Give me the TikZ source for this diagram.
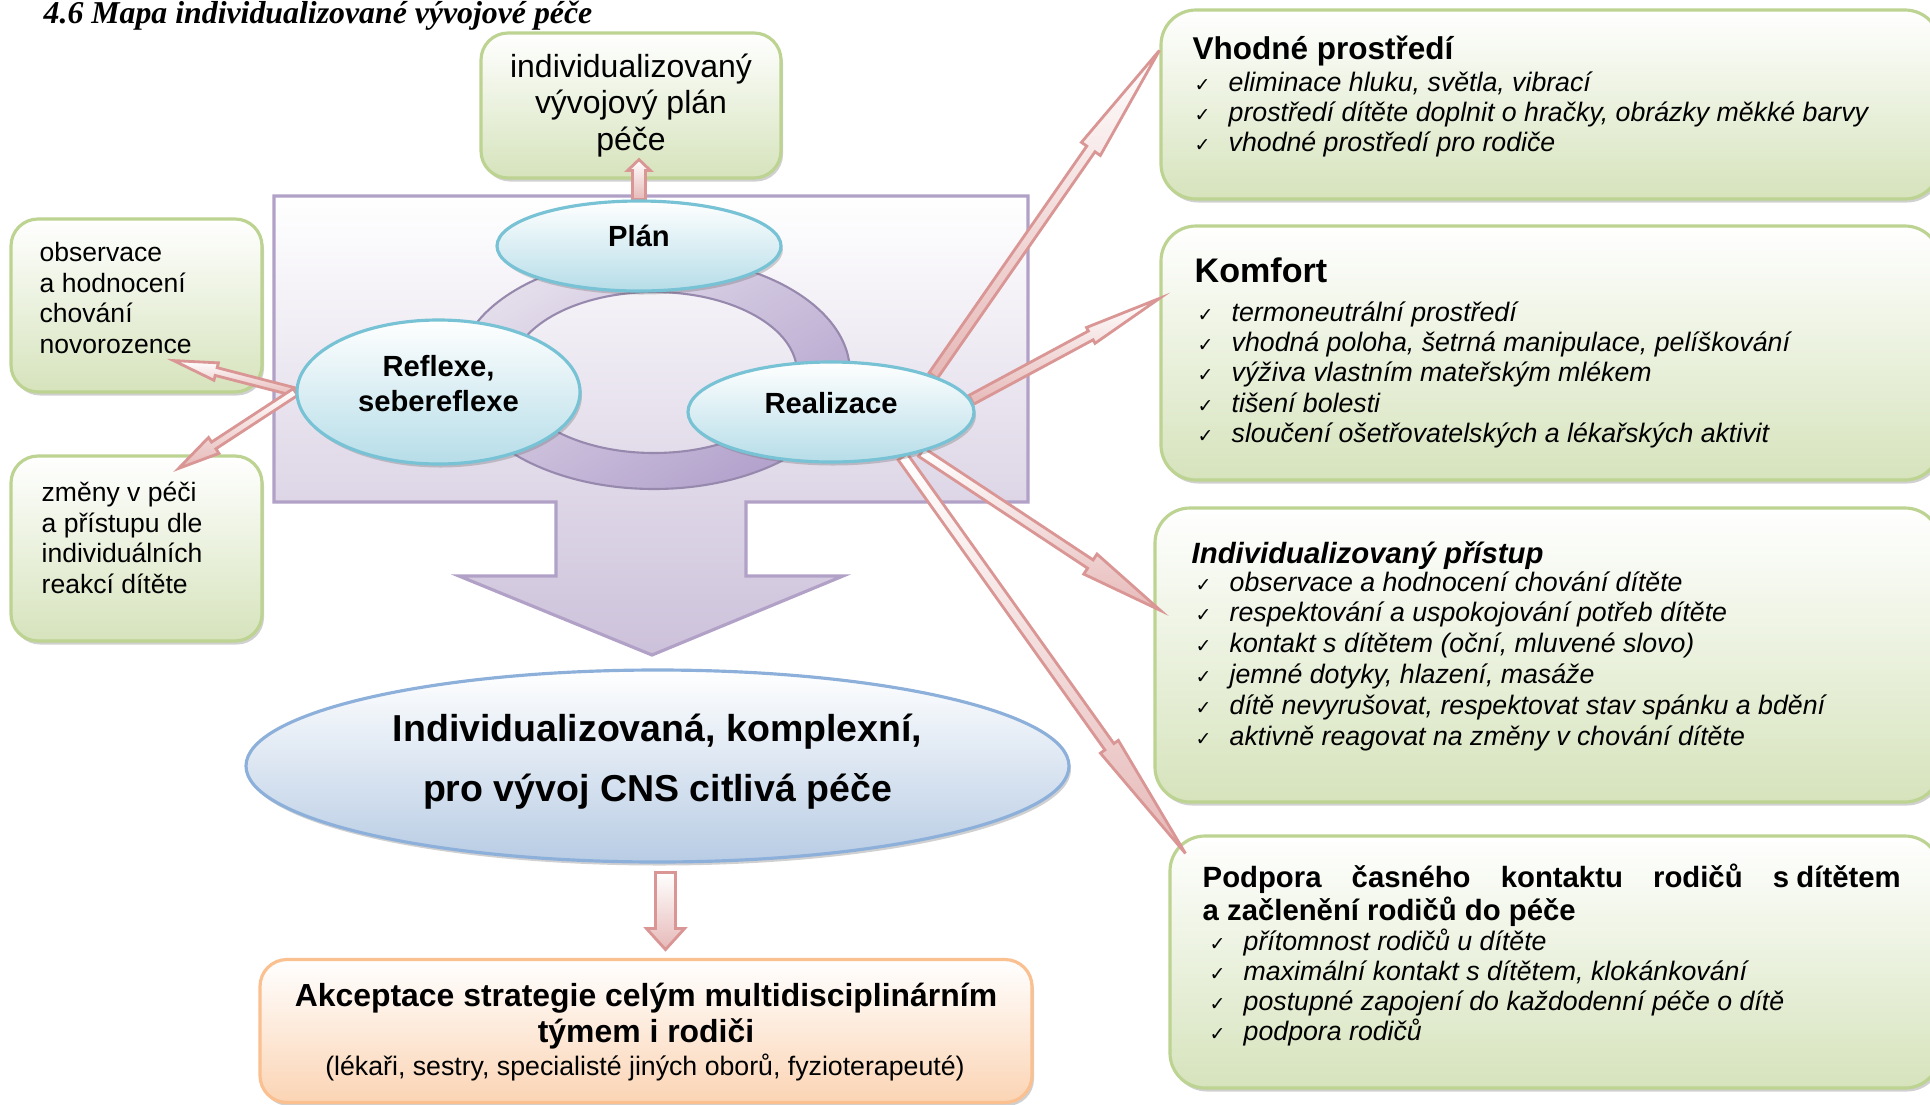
\documentclass[tikz,border=0pt]{standalone}
\usepackage{fontspec}
\setmainfont{Liberation Sans}
\newfontfamily\titlefont{Liberation Serif}
\newfontfamily\symfont{DejaVu Sans}
\usepackage{tikz}
\usetikzlibrary{shapes.geometric, positioning, calc, shadows, backgrounds}

\definecolor{GreenLine}{RGB}{189,211,145}
\definecolor{GreenFill}{RGB}{214,227,188}
\definecolor{CyanLine}{RGB}{120,194,213}
\definecolor{CyanFill}{RGB}{182,221,232}
\definecolor{BlueLine}{RGB}{141,176,219}
\definecolor{BlueFill}{RGB}{184,204,228}
\definecolor{PeachLine}{RGB}{250,192,144}
\definecolor{PeachFill}{RGB}{251,212,180}
\definecolor{LilacLine}{RGB}{178,161,199}
\definecolor{LilacFill}{RGB}{204,193,218}
\definecolor{RingLight}{RGB}{229,223,236}
\definecolor{RingDark}{RGB}{178,161,204}
\definecolor{RoseLine}{RGB}{217,150,148}
\definecolor{RoseFill}{RGB}{230,185,184}

\pgfdeclarelayer{back}
\pgfdeclarelayer{arrows}
\pgfsetlayers{back,arrows,main}

\tikzstyle{shadowed} = [drop shadow={shadow xshift=0.02cm, shadow yshift=-0.035cm, opacity=0.3, fill=black!60}]
\tikzstyle{greenbox} = [rectangle, rounded corners=0.27cm, draw=GreenLine, line width=0.9pt, top color=white, bottom color=GreenFill, inner sep=0pt, shadowed]
\tikzstyle{peachbox} = [rectangle, rounded corners=0.27cm, draw=PeachLine, line width=0.9pt, top color=white, bottom color=PeachFill, inner sep=0pt, shadowed]
\tikzstyle{cyanell} = [ellipse, draw=CyanLine, line width=0.9pt, top color=white, bottom color=CyanFill, inner sep=0pt, shadowed]
\tikzstyle{blueell} = [ellipse, draw=BlueLine, line width=0.9pt, top color=white, bottom color=BlueFill, inner sep=0pt, shadowed]
\tikzstyle{lilacframe} = [draw=LilacLine, line width=0.9pt, top color=white, bottom color=LilacFill]
\tikzstyle{lilacring} = [draw=RingDark!85!black, line width=0.6pt, top color=RingLight, bottom color=RingDark, shading angle=30, even odd rule]
\tikzstyle{rosearrow} = [draw=RoseLine, line width=0.8pt, top color=white, bottom color=RoseFill, line join=miter]
\tikzstyle{elltext} = [inner sep=0pt, font=\bfseries\fontsize{8.3}{9.96}\selectfont, align=center]
\tikzstyle{bigtext} = [inner sep=0pt, font=\bfseries\fontsize{10.67}{17.1}\selectfont, align=center]
\tikzstyle{lefttext} = [inner sep=0pt, anchor=west, align=left, font=\fontsize{7.55}{8.65}\selectfont]
\tikzstyle{listitem} = [inner sep=0pt, anchor=base west, font=\itshape\fontsize{7.6}{9}\selectfont]
\tikzstyle{boxhead} = [inner sep=0pt, anchor=base west, font=\bfseries\fontsize{8.34}{9.4}\selectfont]

\newcommand{\chk}{\makebox[0.34cm][l]{\symfont\upshape\fontsize{5.4}{6}\selectfont ✓}}
% block arrow: from, tip, head length, half shaft, half head
\newcommand{\blockarrow}[5]{%
  \coordinate (ahead) at ($(#2)!#3!(#1)$);
  \draw[rosearrow] ($(#1)!#4!90:(#2)$) -- ($(ahead)!#4!90:(#2)$) -- ($(ahead)!#5!90:(#2)$) -- (#2)
    -- ($(ahead)!#5!-90:(#2)$) -- ($(ahead)!#4!-90:(#2)$) -- ($(#1)!#4!-90:(#2)$) -- cycle;}

\begin{document}
\begin{tikzpicture}

\begin{pgfonlayer}{back}
    \path[use as bounding box, fill=white] (0,0) rectangle (19.30,-11.05);

    % cycle frame with the big down arrow
    \draw[lilacframe] (2.74,-1.96) -- (10.28,-1.96) -- (10.28,-5.02) -- (7.46,-5.02) -- (7.46,-5.76)
        -- (8.43,-5.76) -- (6.52,-6.55) -- (4.59,-5.76) -- (5.56,-5.76) -- (5.56,-5.02) -- (2.74,-5.02) -- cycle;
    \draw[lilacring] (6.54,-3.725) ellipse (1.96 and 1.165) (6.54,-3.725) ellipse (1.43 and 0.805);

    % boxes
    \node[greenbox, minimum width=3.00cm, minimum height=1.45cm, align=center,
          font=\fontsize{9.1}{10.4}\selectfont] (planbox) at (6.31,-1.055) {individualizovaný\\vývojový plán\\péče};
    \node[greenbox, minimum width=2.51cm, minimum height=1.73cm] (obs) at (1.365,-3.055) {};
    \node[greenbox, minimum width=2.51cm, minimum height=1.85cm] (zmeny) at (1.365,-5.485) {};
    \node[greenbox, rounded corners=0.35cm, minimum width=7.79cm, minimum height=1.89cm] (vhodne) at (15.505,-1.045) {};
    \node[greenbox, rounded corners=0.35cm, minimum width=7.79cm, minimum height=2.54cm] (komfort) at (15.505,-3.53) {};
    \node[greenbox, rounded corners=0.35cm, minimum width=7.85cm, minimum height=2.94cm] (pristup) at (15.475,-6.55) {};
    \node[greenbox, rounded corners=0.35cm, minimum width=7.70cm, minimum height=2.52cm] (podpora) at (15.55,-9.62) {};
    \node[peachbox, minimum width=7.72cm, minimum height=1.43cm] (akcept) at (6.46,-10.31) {};
\end{pgfonlayer}

% ellipses
\node[cyanell, minimum width=2.84cm, minimum height=0.90cm] (plan) at (6.39,-2.46) {};
\node[cyanell, minimum width=2.83cm, minimum height=1.44cm] (reflexe) at (4.385,-3.92) {};
\node[cyanell, minimum width=2.86cm, minimum height=1.00cm] (real) at (8.31,-4.12) {};
\node[blueell, minimum width=8.23cm, minimum height=1.92cm] (cns) at (6.575,-7.66) {};

\node[elltext] (planText) at ([yshift=0.10cm]plan.center) {Plán};
\node[elltext] (reflexeText) at ([yshift=0.085cm]reflexe.center) {Reflexe,\\sebereflexe};
\node[elltext] (realText) at ([yshift=0.09cm]real.center) {Realizace};
\node[bigtext] (cnsText) at ([yshift=0.04cm]cns.center) {Individualizovaná, komplexní,\\pro vývoj CNS citlivá péče};

% arrow tips
\coordinate (tipPlan) at ($(plan.north |- planbox.south)+(0,0.20)$);
\coordinate (tipObs) at ([xshift=-0.90cm,yshift=0.33cm]obs.south east);
\coordinate (tipZmeny) at ([xshift=-0.85cm,yshift=-0.14cm]zmeny.north east);
\coordinate (tipVhodne) at ([yshift=-0.42cm]vhodne.north west);
\coordinate (tipKomfort) at ([yshift=-0.74cm]komfort.north west);
\coordinate (tipPristup) at ([xshift=0.07cm,yshift=-1.04cm]pristup.north west);
\coordinate (tipPodpora) at ([xshift=0.17cm,yshift=-0.19cm]podpora.north west);
\coordinate (downStart) at ($(cns.south)+(0.08,-0.09)$);
\coordinate (downTip) at ($(downStart)+(0,-0.77)$);

\begin{pgfonlayer}{arrows}
    \blockarrow{plan.north}{tipPlan}{0.11cm}{0.065cm}{0.115cm}
    \blockarrow{reflexe.west}{tipObs}{0.44cm}{0.04cm}{0.09cm}
    \blockarrow{reflexe.west}{tipZmeny}{0.42cm}{0.04cm}{0.095cm}
    \blockarrow{real.north east}{tipVhodne}{1.20cm}{0.05cm}{0.115cm}
    \blockarrow{real.5}{tipKomfort}{0.78cm}{0.05cm}{0.09cm}
    \blockarrow{real.-24}{tipPristup}{0.84cm}{0.05cm}{0.12cm}
    \blockarrow{real.-32}{tipPodpora}{1.31cm}{0.055cm}{0.11cm}
    \blockarrow{downStart}{downTip}{0.21cm}{0.10cm}{0.19cm}
\end{pgfonlayer}

% texts
\node[anchor=base west, inner sep=0pt, font=\titlefont\bfseries\itshape\fontsize{9.05}{10}\selectfont] (title) at (0.43,-0.23) {4.6 Mapa individualizované vývojové péče};

\node[lefttext] (obsText) at (0.39,-2.98) {observace\\a hodnocení\\chování\\novorozence};
\node[lefttext, font=\fontsize{7.55}{8.73}\selectfont] (zmenyText) at (0.41,-5.38) {změny v péči\\a přístupu dle\\individuálních\\reakcí dítěte};

\node[boxhead, font=\bfseries\fontsize{8.96}{10}\selectfont] (vhodneHead) at (11.92,-0.59) {Vhodné prostředí};
\foreach \t [count=\i from 0] in {{eliminace hluku, světla, vibrací}, {prostředí dítěte doplnit o hračky, obrázky měkké barvy}, {vhodné prostředí pro rodiče}}
    \node[listitem] (vh\i) at (11.94,-0.91-0.30*\i) {\chk\t};

\node[boxhead, font=\bfseries\fontsize{9.7}{11}\selectfont] (komfortHead) at (11.94,-2.82) {Komfort};
\foreach \t [count=\i from 0] in {{termoneutrální prostředí}, {vhodná poloha, šetrná manipulace, pelíškování}, {výživa vlastním mateřským mlékem}, {tišení bolesti}, {sloučení ošetřovatelských a lékařských aktivit}}
    \node[listitem] (ko\i) at (11.97,-3.21-0.304*\i) {\chk\t};

\node[boxhead] (pristupHead) at (11.91,-5.63) {\itshape Individualizovaný přístup};
\foreach \t [count=\i from 0] in {{observace a hodnocení chování dítěte}, {respektování a uspokojování potřeb dítěte}, {kontakt s dítětem (oční, mluvené slovo)}, {jemné dotyky, hlazení, masáže}, {dítě nevyrušovat, respektovat stav spánku a bdění}, {aktivně reagovat na změny v chování dítěte}}
    \node[listitem] (pr\i) at (11.95,-5.91-0.308*\i) {\chk\t};

\node[boxhead, text width=6.98cm, align=justify] (podporaHead) at (12.02,-8.87) {Podpora časného kontaktu rodičů s\hspace{0.25em}dítětem\linebreak a začlenění rodičů do péče};
\foreach \t [count=\i from 0] in {{přítomnost rodičů u dítěte}, {maximální kontakt s dítětem, klokánkování}, {postupné zapojení do každodenní péče o dítě}, {podpora rodičů}}
    \node[listitem] (po\i) at (12.09,-9.50-0.30*\i) {\chk\t};

\node[inner sep=0pt, align=center, font=\bfseries\fontsize{9.08}{10.24}\selectfont] (akcText) at ([yshift=0.145cm]akcept.center) {Akceptace strategie celým multidisciplinárním\\týmem i rodiči};
\node[inner sep=0pt, font=\fontsize{7.6}{9}\selectfont] (akcNote) at (6.45,-10.67) {(lékaři, sestry, specialisté jiných oborů, fyzioterapeuté)};

\end{tikzpicture}
\end{document}
